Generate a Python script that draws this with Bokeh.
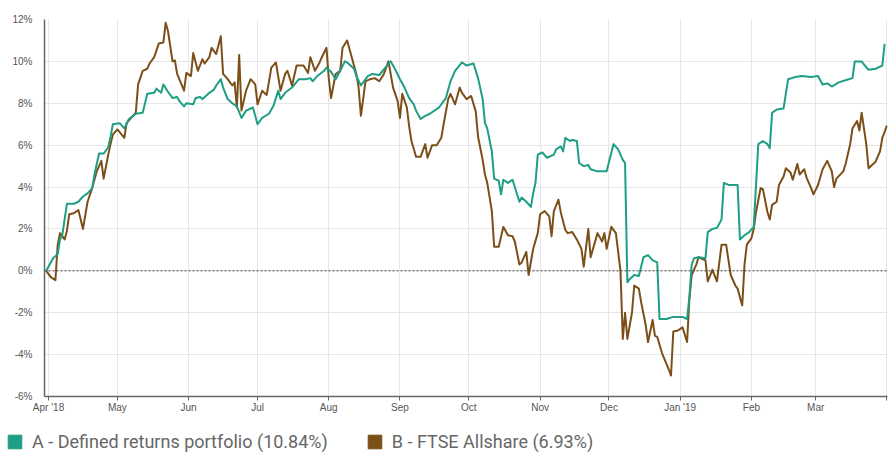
import pandas as pd
from bokeh.plotting import figure
from bokeh.layouts import column
from bokeh.models import (Range1d, FixedTicker, CustomJSTickFormatter, PrintfTickFormatter,
                          Span, Legend, LegendItem)
from bokeh.embed import file_html
from bokeh.resources import INLINE

# ---------------- data ----------------
start_date = "2018-04-01"   # day 0 of the day offsets below

a_name = "A - Defined returns portfolio (10.84%)"
a_days = [-1, 2, 4, 5, 6, 8, 11, 13, 15, 17, 19, 20, 22, 24, 26, 27, 28, 31, 33, 35, 38, 41, 43, 46, 47,
          49, 50, 52, 54, 56, 57, 59, 60, 63, 64, 66, 67, 69, 70, 72, 73, 75, 76, 78, 80, 82, 84, 86, 89,
          91, 93, 96, 98, 100, 101, 103, 106, 109, 112, 114, 115, 117, 120, 121, 123, 125, 127, 129, 130,
          133, 134, 136, 137, 139, 141, 144, 147, 149, 151, 153, 155, 157, 159, 160, 162, 164, 166, 168,
          170, 173, 175, 177, 180, 182, 185, 187, 189, 190, 191, 193, 194, 196, 197, 198, 200, 202, 203,
          205, 206, 208, 210, 211, 212, 213, 215, 217, 220, 221, 223, 224, 225, 227, 228, 230, 231, 233,
          235, 236, 239, 243, 244, 246, 248, 250, 251, 252, 253, 255, 257, 259, 261, 263, 265, 266, 269,
          272, 276, 278, 279, 280, 281, 283, 286, 287, 289, 291, 293, 294, 296, 300, 301, 303, 305, 307,
          309, 311, 313, 314, 315, 317, 320, 322, 325, 328, 332, 335, 337, 339, 341, 344, 347, 350, 351,
          354, 355, 357, 360, 363, 364]
a_values = [0.0, 0.6, 0.8, 1.5, 1.7, 3.2, 3.2, 3.3, 3.55, 3.7, 3.95, 4.6, 5.6, 5.6, 5.9, 6.4, 7.0, 7.05,
            6.8, 7.25, 7.5, 7.55, 8.45, 8.5, 8.7, 8.5, 8.9, 8.55, 8.25, 8.3, 8.1, 7.85, 8.0, 7.95, 8.25,
            8.3, 8.2, 8.4, 8.5, 8.65, 8.85, 9.15, 8.75, 8.2, 8.0, 7.85, 7.3, 7.65, 7.8, 7.0, 7.3, 7.5, 7.9,
            8.6, 8.2, 8.5, 8.75, 9.15, 9.15, 9.2, 9.05, 9.3, 9.55, 9.7, 9.5, 9.15, 9.55, 10.0, 9.95, 9.65,
            9.3, 8.85, 9.0, 9.3, 9.4, 9.35, 9.75, 10.0, 9.6, 9.15, 8.75, 8.25, 7.95, 7.65, 7.25, 7.4, 7.5,
            7.65, 7.8, 8.25, 9.05, 9.55, 9.95, 9.8, 9.9, 9.2, 8.2, 7.05, 6.8, 5.7, 4.4, 4.3, 3.65, 4.35,
            4.2, 4.35, 4.0, 3.3, 3.5, 3.3, 3.05, 3.7, 4.2, 5.55, 5.65, 5.4, 5.55, 5.8, 5.95, 5.7, 6.35,
            6.2, 6.25, 6.2, 5.15, 5.0, 5.05, 4.85, 4.75, 4.75, 5.2, 6.05, 5.8, 5.3, 5.15, -0.55, -0.4,
            -0.2, -0.25, 0.65, 0.75, 0.5, 0.4, -2.3, -2.3, -2.2, -2.2, -2.3, -1.25, 0.3, 0.6, 0.65, 0.6,
            1.85, 2.0, 2.05, 2.45, 4.2, 4.1, 4.1, 1.5, 1.7, 1.85, 2.1, 6.05, 6.2, 6.05, 5.85, 7.55, 7.7,
            7.75, 9.15, 9.25, 9.3, 9.25, 9.3, 8.9, 8.95, 8.8, 9.0, 9.1, 9.2, 10.0, 10.0, 9.85, 9.6, 9.65,
            9.8, 10.84]

b_name = "B - FTSE Allshare (6.93%)"
b_days = [-1, 1, 3, 4, 5, 7, 8, 9, 11, 13, 15, 17, 19, 21, 23, 24, 26, 27, 28, 30, 33, 34, 36, 38, 39,
          41, 43, 44, 46, 48, 50, 51, 52, 54, 55, 56, 59, 60, 62, 63, 65, 67, 68, 70, 71, 73, 75, 76, 78,
          80, 81, 82, 83, 84, 86, 88, 90, 91, 93, 95, 97, 99, 101, 103, 104, 106, 108, 111, 113, 114, 116,
          118, 119, 121, 122, 123, 125, 127, 128, 130, 132, 134, 135, 136, 138, 140, 142, 144, 146, 148,
          150, 152, 153, 154, 156, 157, 158, 160, 162, 164, 165, 167, 169, 171, 172, 174, 175, 177, 179,
          180, 182, 184, 186, 187, 189, 190, 191, 193, 194, 196, 198, 200, 202, 203, 205, 206, 208, 209,
          211, 213, 214, 216, 218, 219, 220, 222, 223, 225, 226, 228, 230, 232, 233, 235, 236, 239, 241,
          242, 243, 245, 247, 248, 249, 250, 251, 252, 254, 255, 257, 258, 260, 261, 263, 264, 265, 267,
          270, 271, 272, 274, 276, 278, 279, 280, 282, 283, 286, 287, 289, 291, 293, 295, 297, 299, 300,
          302, 303, 304, 306, 307, 308, 310, 311, 313, 314, 315, 317, 318, 320, 321, 323, 324, 326, 327,
          329, 330, 332, 333, 335, 337, 339, 341, 342, 343, 346, 347, 349, 350, 352, 353, 354, 356, 357,
          359, 360, 362, 363, 365]
b_values = [0.0, -0.3, -0.45, 1.25, 1.8, 1.5, 1.9, 2.7, 2.75, 2.9, 2.0, 3.3, 3.95, 4.75, 5.25, 4.4, 5.55,
            6.05, 6.5, 6.75, 6.35, 7.05, 7.3, 7.55, 8.9, 9.55, 9.65, 9.9, 10.2, 10.85, 10.9, 11.85, 11.45,
            10.0, 10.05, 9.4, 8.6, 9.45, 9.3, 10.4, 9.55, 10.1, 9.9, 10.2, 10.65, 10.35, 11.2, 9.4, 9.15,
            8.85, 9.0, 7.8, 10.3, 7.65, 8.6, 9.15, 8.9, 7.95, 8.6, 8.4, 9.7, 9.95, 8.6, 9.4, 9.55, 8.85,
            9.8, 9.8, 9.45, 10.2, 9.55, 9.95, 10.2, 10.65, 9.2, 8.25, 9.4, 9.55, 10.65, 11.0, 10.2, 9.4,
            8.75, 7.4, 9.05, 9.15, 9.2, 9.05, 9.4, 10.0, 8.75, 8.1, 7.3, 8.45, 7.8, 6.9, 6.2, 5.45, 5.45,
            6.05, 5.4, 6.0, 6.0, 6.35, 7.0, 8.2, 8.45, 7.95, 8.75, 8.5, 8.2, 8.35, 7.6, 6.4, 5.3, 4.6, 4.2,
            2.85, 1.15, 1.15, 2.1, 1.7, 1.65, 1.4, 0.3, 0.4, 0.9, -0.2, 1.05, 1.8, 2.7, 2.85, 2.6, 1.65,
            2.85, 3.4, 2.8, 1.95, 1.8, 1.85, 1.5, 1.05, 0.2, 2.0, 0.65, 1.8, 1.4, 1.8, 1.05, 2.1, 1.8, 0.9,
            0.0, -3.25, -2.0, -3.25, -2.0, -0.7, -0.85, -1.5, -2.6, -3.4, -2.35, -3.1, -3.15, -3.9, -4.7,
            -5.0, -2.9, -2.85, -2.7, -3.4, -1.35, -0.2, 0.3, 0.65, 0.5, -0.5, 0.05, -0.5, 1.25, 1.25, -0.2,
            -0.7, -0.85, -1.65, 0.3, 1.25, 1.55, 2.0, 2.8, 3.95, 3.9, 2.8, 2.45, 3.15, 3.3, 4.1, 4.5, 4.9,
            4.7, 4.35, 5.1, 4.6, 4.85, 4.45, 3.95, 3.65, 4.1, 4.85, 5.25, 4.75, 4.0, 4.4, 4.75, 5.1, 6.05,
            6.8, 7.15, 6.7, 7.55, 6.05, 4.9, 5.1, 5.2, 5.7, 6.35, 6.93]

tick_dates = ["2018-04-01", "2018-05-01", "2018-06-01", "2018-07-01", "2018-08-01", "2018-09-01",
              "2018-10-01", "2018-11-01", "2018-12-01", "2019-01-01", "2019-02-01", "2019-03-01",
              "2019-04-01"]
tick_labels = ["Apr '18", "May", "Jun", "Jul", "Aug", "Sep", "Oct", "Nov", "Dec", "Jan '19", "Feb",
               "Mar", ""]
y_ticks = [-6, -4, -2, 0, 2, 4, 6, 8, 10, 12]

# ---------------- styling ----------------
COL_A = "#1f9e86"
COL_B = "#7d4f18"
AXIS_COL = "#666666"
TXT_COL = "#555555"
LEG_TXT = "#666666"
GRID_COL = "#e6e6e6"

base = pd.Timestamp(start_date)
a_dates = base + pd.to_timedelta(a_days, unit="D")
b_dates = base + pd.to_timedelta(b_days, unit="D")
tick_ms = [pd.Timestamp(d).value // 10**6 for d in tick_dates]

p = figure(width=890, height=420, x_axis_type="datetime", output_backend="svg",
           toolbar_location=None, frame_align=False,
           x_range=Range1d(pd.Timestamp("2018-03-30 06:00"), pd.Timestamp("2019-04-01 06:00")),
           y_range=Range1d(-6, 12),
           min_border_left=44, min_border_right=3, min_border_top=19, min_border_bottom=24)
p.outline_line_color = None
p.background_fill_color = "white"
p.border_fill_color = "white"

# grids
p.xgrid.ticker = FixedTicker(ticks=tick_ms)
p.ygrid.ticker = FixedTicker(ticks=y_ticks)
p.xgrid.grid_line_color = GRID_COL
p.ygrid.grid_line_color = GRID_COL

# axes
xa = p.xaxis[0]
xa.ticker = FixedTicker(ticks=tick_ms)
xa.formatter = CustomJSTickFormatter(args=dict(tpos=tick_ms, ttext=tick_labels), code="""
let best = 0, bd = Infinity;
for (let i = 0; i < tpos.length; i++) {
  const d = Math.abs(tpos[i] - tick);
  if (d < bd) { bd = d; best = i; }
}
return ttext[best];
""")
xa.axis_line_color = AXIS_COL
xa.axis_line_width = 1.5
xa.major_tick_line_color = AXIS_COL
xa.major_tick_out = 4
xa.major_tick_in = 0
xa.minor_tick_line_color = None
xa.major_label_text_font = "Liberation Sans"
xa.major_label_text_font_size = "10px"
xa.major_label_text_color = TXT_COL
xa.major_label_standoff = 1

ya = p.yaxis[0]
ya.ticker = FixedTicker(ticks=y_ticks)
ya.formatter = PrintfTickFormatter(format="%d%%")
ya.axis_line_color = AXIS_COL
ya.axis_line_width = 1.5
ya.major_tick_line_color = None
ya.minor_tick_line_color = None
ya.major_label_text_font = "Liberation Sans"
ya.major_label_text_font_size = "10px"
ya.major_label_text_color = TXT_COL
ya.major_label_standoff = 6

# zero line
p.add_layout(Span(location=0, dimension="width", line_color="#444444", line_width=1,
                  line_dash="2 2"))

# series
p.line(b_dates, b_values, line_color=COL_B, line_width=2, line_join="round")
p.line(a_dates, a_values, line_color=COL_A, line_width=2, line_join="round")

# ---------------- legend strip ----------------
lg = figure(width=890, height=32, output_backend="svg", toolbar_location=None,
            frame_align=False,
            x_axis_location=None, y_axis_location=None,
            x_range=Range1d(0, 1), y_range=Range1d(0, 1),
            min_border_left=0, min_border_right=0, min_border_top=0, min_border_bottom=0)
lg.grid.visible = False
lg.outline_line_color = None
lg.background_fill_color = "white"
lg.border_fill_color = "white"
# swatch renderers sit outside the strip's visible range; only their legend glyphs show
ra = lg.rect(x=[5], y=[5], width=1, height=1, fill_color=COL_A, line_color=COL_A)
rb = lg.rect(x=[5], y=[5], width=1, height=1, fill_color=COL_B, line_color=COL_B)
legend = Legend(items=[LegendItem(label=a_name, renderers=[ra]),
                       LegendItem(label=b_name, renderers=[rb])],
                orientation="horizontal", location=(6, 0),
                border_line_color=None, background_fill_alpha=0,
                glyph_width=17, glyph_height=17, label_standoff=9, spacing=38,
                label_height=17,
                label_text_font="Roboto", label_text_font_size="18px",
                label_text_color=LEG_TXT, padding=0, margin=0)
lg.add_layout(legend)

open("out.html", "w").write(file_html(column(p, lg, spacing=0), INLINE))
